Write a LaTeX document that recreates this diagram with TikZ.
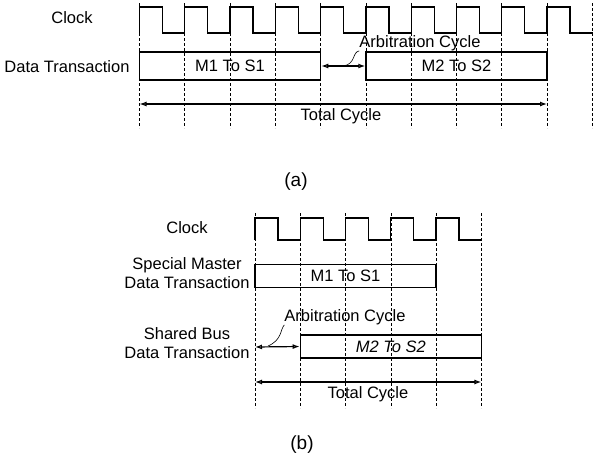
\documentclass[tikz,border=0pt]{standalone}
\usepackage{fontspec}
\setmainfont{Liberation Sans}
\usetikzlibrary{arrows.meta}

\begin{document}
\begin{tikzpicture}[x=1pt,y=-1pt,
  lbl/.style={font=\fontsize{16.5}{19.5}\selectfont, inner sep=0pt, align=center},
  subcap/.style={font=\fontsize{19}{22}\selectfont, inner sep=0pt},
  tick/.style={densely dashed, line width=0.6pt},
  wave/.style={line width=1.3pt},
  slot/.style={draw, line width=1.3pt, inner sep=0pt, font=\fontsize{16.5}{19.5}\selectfont},
  span/.style={{Latex[open,length=7pt,width=5pt]}-{Latex[open,length=7pt,width=5pt]}, line width=1.2pt},
  lead/.style={line width=0.6pt}]
\useasboundingbox (0,0) rectangle (595,459);

\def\per{45.28}

% Draw (a)
\def\xa{139.5}

\foreach \k in {0,...,10} {\draw[tick] (\xa+\k*\per,3) -- (\xa+\k*\per,128);}
\draw[wave] (\xa,33) \foreach \k in {0,...,9} { -- (\xa+\k*\per,33) -- (\xa+\k*\per,7) -- (\xa+\k*\per+23,7) -- (\xa+\k*\per+23,33) } -- (593,33);

\node[lbl] (clka) at (72,18) {Clock};
\node[lbl] (data) at (67,67) {Data Transaction};

\node[slot, minimum width=4*\per, minimum height=28pt] (m1a) at ({\xa+2*\per},66) {M1 To S1};
\node[slot, minimum width=4*\per, minimum height=28pt] (m2a) at ({\xa+7*\per},66) {M2 To S2};
\draw[span] (m1a.east) -- (m2a.west);

\node[lbl] (arba) at (420,43) {Arbitration Cycle};
\coordinate (arbmida) at ({\xa+4.5*\per},66);
\draw[lead] (arba.south west) .. controls (352,52) and (356,64) .. (arbmida);

\coordinate (tota0) at (\xa,104);
\coordinate (tota9) at ({\xa+9*\per},104);
\draw[span] (tota0) -- (tota9);
\node[lbl] (tota) at (341,116) {Total Cycle};

\node[subcap] (capa) at (296,182) {(a)};

% Draw (b)
\def\xb{255}

\foreach \k in {0,...,5} {\draw[tick] (\xb+\k*\per,213) -- (\xb+\k*\per,408);}
\draw[wave] (\xb,240) \foreach \k in {0,...,4} { -- (\xb+\k*\per,240) -- (\xb+\k*\per,218) -- (\xb+\k*\per+23,218) -- (\xb+\k*\per+23,240) } -- ({\xb+5*\per},240);

\node[lbl] (clkb) at (187,228) {Clock};
\node[lbl] (spec) at (187,273) {Special Master\\Data Transaction};
\node[lbl] (shrd) at (187,343) {Shared Bus\\Data Transaction};

\node[slot, minimum width=4*\per, minimum height=23pt] (m1b) at ({\xb+2*\per},276) {M1 To S1};
\node[slot, minimum width=4*\per, minimum height=23pt] (m2b) at ({\xb+3*\per},346.5) {\itshape M2 To S2};

\coordinate (arbb0) at (\xb,347);
\draw[span] (arbb0) -- (m2b.west);

\node[lbl] (arbb) at (345,317) {Arbitration Cycle};
\coordinate (arbmidb) at (268,346);
\draw[lead] (arbb.south west) .. controls (280,330) and (282,340) .. (arbmidb);

\coordinate (totb0) at (\xb,382);
\coordinate (totb5) at ({\xb+5*\per},382);
\draw[span] (totb0) -- (totb5);
\node[lbl] (totb) at (368,394) {Total Cycle};

\node[subcap] (capb) at (302,445) {(b)};

\end{tikzpicture}
\end{document}
